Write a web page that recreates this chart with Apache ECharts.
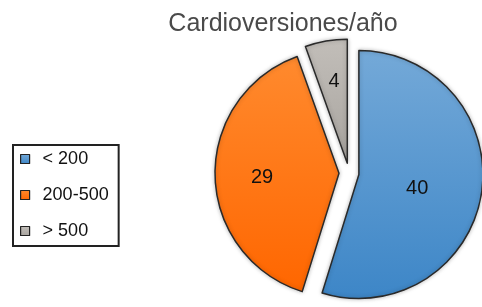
<!DOCTYPE html>
<html>
<head>
<meta charset="utf-8">
<script src="https://cdn.jsdelivr.net/npm/echarts@6/dist/echarts.min.js"></script>
<style>
html,body{margin:0;padding:0;background:#fff;}
#chart{width:482px;height:307px;}
</style>
</head>
<body>
<div id="chart"></div>
<script>
const titleText = 'Cardioversiones/año';
const categories = ['< 200', '200-500', '> 500'];
const values = [40, 29, 4];
const topColors = ['#74a9d8', '#ff8a2e', '#c2beb9'];
const bottomColors = ['#3d86c7', '#ff6600', '#a8a49f'];

function grad(i) {
  return new echarts.graphic.LinearGradient(0, 0, 0, 1, [
    { offset: 0, color: topColors[i] },
    { offset: 1, color: bottomColors[i] }
  ]);
}

const chart = echarts.init(document.getElementById('chart'));
const labelShift = [[-6, 4], [-12, 3], [-2, -18]];
chart.setOption({
  animation: false,
  title: {
    text: titleText,
    left: 278,
    top: 7,
    textAlign: 'center',
    textStyle: { fontFamily: 'Liberation Sans', fontSize: 25, fontWeight: 'normal', color: '#4a4a4a' }
  },
  legend: {
    orient: 'vertical',
    left: 13,
    top: 145,
    data: categories,
    icon: 'rect',
    itemWidth: 9,
    itemHeight: 9,
    itemGap: 18,
    padding: [5, 10, 6, 7],
    borderColor: '#222',
    borderWidth: 2,
    itemStyle: { borderColor: '#222', borderWidth: 1.2 },
    textStyle: { fontFamily: 'Liberation Sans', fontSize: 18, color: '#111', padding: [0, 0, 0, 8] }
  },
  series: [{
    type: 'pie',
    center: [349, 173],
    radius: [0, 124],
    startAngle: 90,
    clockwise: true,
    selectedMode: 'multiple',
    selectedOffset: 10,
    avoidLabelOverlap: false,
    label: {
      show: true,
      position: 'inner',
      formatter: '{c}',
      fontFamily: 'Liberation Sans',
      fontSize: 20,
      color: '#111'
    },
    labelLine: { show: false },
    labelLayout: function (p) {
      return { dx: labelShift[p.dataIndex][0], dy: labelShift[p.dataIndex][1] };
    },
    itemStyle: {
      borderColor: '#2a2a2a',
      borderWidth: 1.5,
      shadowBlur: 4,
      shadowColor: 'rgba(0,0,0,0.25)'
    },
    emphasis: { disabled: true },
    data: values.map((v, i) => ({
      name: categories[i],
      value: v,
      selected: true,
      itemStyle: { color: grad(i) },
      select: { itemStyle: { color: grad(i) } }
    }))
  }]
});
</script>
</body>
</html>
